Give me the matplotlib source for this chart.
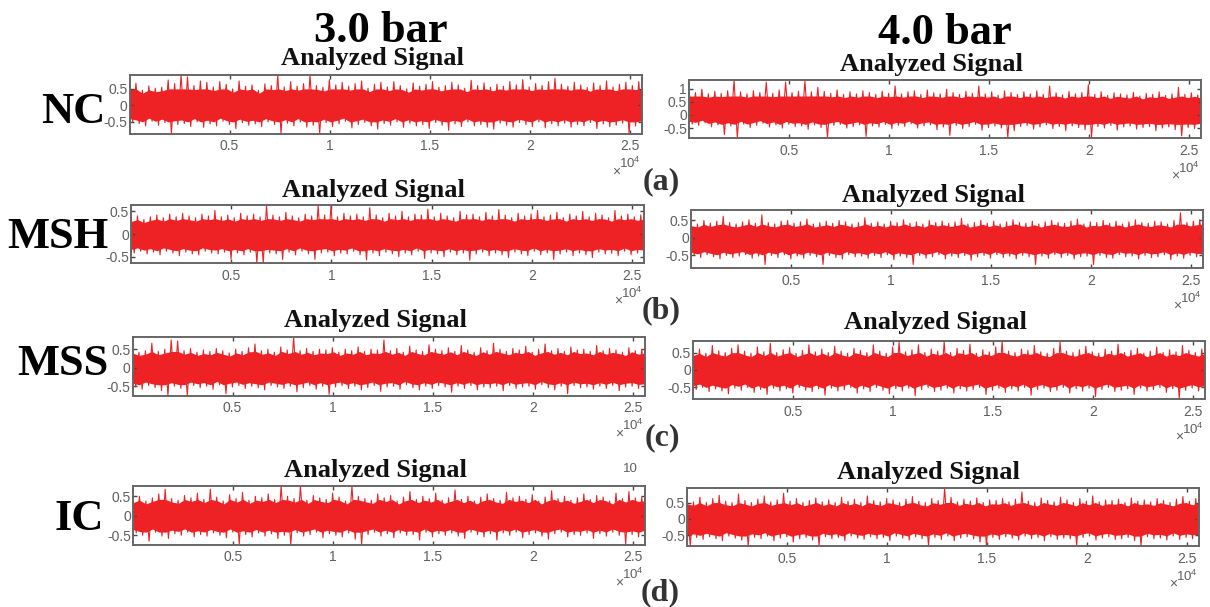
import numpy as np
import matplotlib
matplotlib.use("Agg")
import matplotlib.pyplot as plt

plt.rcParams['font.family'] = ['Liberation Sans', 'DejaVu Sans']
plt.rcParams['mathtext.default'] = 'regular'

W, H = 1210, 607
RED = '#EE2224'
GREY = '#666666'
TXT = '#5f5f5f'

x_ticks = [5000, 10000, 15000, 20000, 25000]
x_labels = ['0.5', '1', '1.5', '2', '2.5']
n_samples = 25600

# peak values, left to right, one per ~6 px
nc3_hi = [.62, .67, .46, .59, .52, .55, .77, .66, .92, .86,
          .60, .74, .70, .56, .72, .64, .50, .74, .58, .62,
          .46, .65, .60, .92, .56, .72, .58, .66, .92, .60,
          .55, .78, .62, .70, .58, .66, .74, .52, .64, .70,
          .56, .72, .60, .50, .68, .58, .64, .72, .55, .60,
          .70, .62, .52, .76, .60, .68, .55, .64, .58, .72,
          .62, .78, .56, .66, .60, .72, .82, .64, .58, .70,
          .62, .54, .68, .60, .74, .56, .64, .70, .60, .72]
nc3_lo = [-.50, -.55, -.62, -.48, -.60, -.52, -.85, -.58, -.55, -.64,
          -.50, -.66, -.56, -.62, -.48, -.58, -.70, -.52, -.60, -.56,
          -.64, -.50, -.58, -.85, -.54, -.62, -.50, -.66, -.60, -.85,
          -.52, -.64, -.56, -.48, -.68, -.58, -.52, -.62, -.72, -.55,
          -.60, -.50, -.66, -.54, -.62, -.58, -.70, -.52, -.60, -.75,
          -.56, -.64, -.50, -.62, -.58, -.66, -.72, -.54, -.60, -.66,
          -.52, -.58, -.64, -.50, -.68, -.56, -.62, -.54, -.66, -.58,
          -.62, -.52, -.70, -.56, -.64, -.60, -.54, -.85, -.62, -.58]

nc4_hi = [.95, .85, .98, .80, .90, .82, .92, 1.33, .88, .80,
          .92, .85, 1.25, .82, .95, 1.25, .85, .90, 1.30, .88,
          1.05, .90, .82, .95, .78, .88, .80, .92, .85, .78,
          .90, .82, 1.10, .80, .88, .92, .78, .95, .84, .80,
          .98, .85, .78, .90, .82, 1.10, .80, .88, .75, .92,
          .85, .78, .88, .80, .92, .78, 1.10, .84, .76, .90,
          .80, .85, 1.15, .78, .88, .74, .84, .80, .76, .86,
          .72, .82, .78, .88, .74, .80, 1.05, .78, .84, .76]
nc4_lo = [-.35, -.40, -.30, -.45, -.38, -.75, -.42, -.88, -.35, -.48,
          -.40, -.32, -.46, -.38, -.50, -.36, -.44, -.42, -.55, -.38,
          -.48, -.88, -.40, -.36, -.50, -.44, -.38, -.82, -.42, -.46,
          -.36, -.52, -.40, -.44, -.34, -.50, -.42, -.38, -.56, -.46,
          -.78, -.40, -.52, -.44, -.36, -.58, -.48, -.42, -.50, -.88,
          -.60, -.44, -.40, -.54, -.46, -.38, -.52, -.44, -.60, -.42,
          -.48, -.56, -.85, -.44, -.50, -.40, -.58, -.46, -.42, -.54,
          -.48, -.44, -.60, -.50, -.46, -.56, -.80, -.48, -.52, -.44]

msh3_hi = [.35, .40, .32, .38, .42, .36, .44, .38, .46, .40,
           .36, .44, .40, .52, .38, .42, .36, .46, .40, .44,
           .38, .63, .42, .38, .48, .40, .36, .44, .40, .63,
           .42, .63, .38, .46, .40, .44, .38, .58, .42, .36,
           .46, .40, .50, .38, .44, .42, .55, .38, .46, .40,
           .36, .50, .42, .44, .38, .48, .40, .54, .42, .36,
           .46, .40, .44, .52, .38, .42, .48, .36, .44, .40,
           .50, .38, .46, .42, .36, .52, .40, .44, .38, .42]
msh3_lo = [-.42, -.38, -.44, -.40, -.46, -.38, -.42, -.48, -.40, -.44,
           -.46, -.38, -.42, -.44, -.40, -.55, -.42, -.46, -.40, -.64,
           -.64, -.42, -.44, -.56, -.40, -.46, -.38, -.44, -.56, -.42,
           -.40, -.48, -.42, -.44, -.38, -.46, -.57, -.42, -.48, -.40,
           -.44, -.50, -.42, -.46, -.38, -.54, -.42, -.44, -.50, -.40,
           -.46, -.42, -.58, -.44, -.40, -.48, -.42, -.46, -.52, -.40,
           -.44, -.48, -.38, -.46, -.42, -.56, -.44, -.40, -.48, -.42,
           -.46, -.52, -.40, -.44, -.42, -.48, -.38, -.46, -.42, -.44]

msh4_hi = [.45, .40, .50, .42, .48, .62, .44, .40, .46, .52,
           .42, .66, .44, .40, .48, .50, .42, .46, .54, .40,
           .44, .48, .42, .50, .46, .40, .44, .58, .42, .46,
           .40, .48, .44, .52, .42, .46, .40, .50, .44, .48,
           .42, .46, .56, .40, .44, .50, .42, .48, .40, .46,
           .52, .44, .42, .48, .40, .46, .50, .44, .42, .48,
           .54, .40, .46, .44, .50, .42, .48, .40, .46, .52,
           .44, .42, .48, .46, .40, .50, .72, .44, .48, .52]
msh4_lo = [-.50, -.56, -.48, -.54, -.60, -.50, -.56, -.52, -.48, -.58,
           -.52, -.76, -.50, -.56, -.48, -.60, -.52, -.58, -.50, -.54,
           -.76, -.50, -.56, -.60, -.48, -.54, -.52, -.58, -.50, -.56,
           -.48, -.62, -.52, -.56, -.76, -.50, -.58, -.54, -.48, -.60,
           -.52, -.56, -.50, -.64, -.54, -.50, -.58, -.48, -.56, -.52,
           -.60, -.50, -.54, -.76, -.52, -.58, -.48, -.56, -.50, -.60,
           -.54, -.52, -.76, -.50, -.56, -.58, -.48, -.54, -.52, -.60,
           -.50, -.56, -.54, -.48, -.62, -.52, -.58, -.50, -.54, -.56]

mss3_hi = [.50, .42, .46, .66, .44, .50, .75, .72, .46, .52,
           .42, .48, .44, .52, .46, .40, .50, .44, .54, .64,
           .46, .50, .42, .56, .48, .83, .46, .52, .44, .50,
           .48, .54, .42, .50, .46, .56, .44, .50, .48, .75,
           .46, .52, .42, .58, .48, .44, .62, .50, .46, .54,
           .44, .60, .48, .42, .54, .46, .66, .50, .44, .52,
           .48, .58, .42, .50, .64, .46, .52, .44, .56, .48,
           .50, .44, .60, .46, .52, .48, .42, .54, .46, .50]
mss3_lo = [-.52, -.58, -.48, -.54, -.62, -.75, -.50, -.56, -.75, -.48,
           -.54, -.50, -.58, -.46, -.70, -.52, -.48, -.56, -.50, -.54,
           -.60, -.48, -.52, -.56, -.50, -.65, -.54, -.48, -.58, -.50,
           -.72, -.52, -.48, -.56, -.50, -.60, -.54, -.48, -.64, -.52,
           -.50, -.58, -.46, -.54, -.60, -.50, -.56, -.48, -.52, -.66,
           -.50, -.56, -.48, -.60, -.52, -.54, -.50, -.62, -.48, -.56,
           -.52, -.50, -.58, -.46, -.54, -.60, -.50, -.70, -.48, -.54,
           -.52, -.58, -.50, -.56, -.48, -.62, -.52, -.50, -.56, -.54]

mss4_hi = [.52, .60, .48, .70, .55, .50, .62, .72, .54, .48,
           .66, .52, .76, .50, .58, .64, .48, .56, .72, .52,
           .60, .50, .68, .54, .48, .62, .56, .50, .72, .54,
           .48, .66, .80, .52, .58, .72, .50, .60, .54, .82,
           .50, .62, .56, .74, .48, .58, .52, .66, .82, .54,
           .50, .60, .56, .70, .52, .48, .62, .80, .54, .50,
           .58, .68, .52, .48, .60, .54, .74, .50, .56, .62,
           .48, .54, .66, .50, .58, .52, .70, .56, .50, .60]
mss4_lo = [-.56, -.50, -.62, -.54, -.60, -.68, -.52, -.58, -.50, -.64,
           -.56, -.70, -.52, -.60, -.54, -.66, -.50, -.58, -.62, -.54,
           -.72, -.52, -.60, -.56, -.50, -.66, -.54, -.62, -.50, -.58,
           -.68, -.54, -.60, -.52, -.74, -.56, -.50, -.62, -.58, -.52,
           -.66, -.54, -.60, -.56, -.50, -.70, -.58, -.52, -.64, -.54,
           -.60, -.50, -.72, -.56, -.52, -.62, -.58, -.50, -.66, -.54,
           -.60, -.52, -.76, -.56, -.50, -.62, -.58, -.54, -.70, -.52,
           -.60, -.56, -.50, -.64, -.54, -.82, -.58, -.52, -.60, -.56]

ic3_hi = [.42, .50, .38, .46, .56, .68, .44, .40, .52, .46,
          .58, .42, .68, .48, .38, .54, .44, .60, .40, .50,
          .46, .56, .42, .77, .50, .44, .77, .40, .52, .46,
          .42, .58, .48, .38, .77, .50, .44, .40, .56, .46,
          .52, .38, .48, .62, .42, .50, .44, .58, .40, .46,
          .66, .42, .50, .38, .48, .56, .44, .40, .60, .46,
          .50, .42, .54, .38, .48, .64, .44, .50, .40, .46,
          .56, .42, .52, .48, .38, .58, .44, .62, .46, .48]
ic3_lo = [-.44, -.50, -.65, -.42, -.52, -.58, -.46, -.50, -.42, -.54,
          -.48, -.52, -.44, -.50, -.56, -.42, -.72, -.48, -.54, -.44,
          -.52, -.46, -.58, -.50, -.74, -.44, -.52, -.48, -.42, -.56,
          -.46, -.50, -.54, -.44, -.60, -.72, -.48, -.42, -.52, -.46,
          -.56, -.44, -.50, -.48, -.62, -.42, -.54, -.46, -.50, -.44,
          -.52, -.58, -.42, -.48, -.54, -.46, -.62, -.44, -.50, -.42,
          -.56, -.48, -.44, -.52, -.60, -.46, -.42, -.54, -.48, -.50,
          -.44, -.58, -.46, -.52, -.42, -.50, -.72, -.48, -.54, -.46]

ic4_hi = [.58, .52, .66, .50, .62, .72, .54, .50, .76, .56,
          .50, .60, .70, .52, .58, .78, .54, .62, .50, .56,
          .64, .52, .58, .50, .66, .54, .60, .50, .70, .56,
          .52, .62, .58, .50, .60, .68, .54, .50, .62, .56,
          .94, .66, .52, .60, .54, .64, .50, .58, .56, .62,
          .52, .60, .82, .54, .50, .64, .56, .52, .66, .58,
          .50, .62, .54, .70, .52, .58, .56, .60, .50, .64,
          .54, .58, .52, .62, .56, .50, .60, .68, .54, .62]
ic4_lo = [-.82, -.56, -.62, -.54, -.60, -.66, -.52, -.58, -.64, -.82,
          -.56, -.60, -.52, -.66, -.58, -.54, -.70, -.60, -.56, -.64,
          -.82, -.54, -.60, -.56, -.66, -.52, -.58, -.62, -.54, -.60,
          -.56, -.66, -.52, -.58, -.64, -.54, -.60, -.82, -.56, -.62,
          -.52, -.66, -.58, -.54, -.60, -.70, -.82, -.56, -.62, -.54,
          -.58, -.64, -.52, -.60, -.56, -.66, -.54, -.62, -.58, -.60,
          -.82, -.56, -.52, -.64, -.58, -.54, -.62, -.60, -.56, -.66,
          -.82, -.54, -.60, -.58, -.64, -.52, -.62, -.56, -.60, -.58]

# level where the solid band stops and only thin spikes go on (low, high)
nc3_core = [-.50, .50]
nc4_core = [-.36, .72]
msh3_core = [-.37, .34]
msh4_core = [-.48, .40]
mss3_core = [-.46, .44]
mss4_core = [-.52, .50]
ic3_core = [-.42, .42]
ic4_core = [-.52, .50]

# how far up the peaks the solid band goes
band_share = 0.8

y_ticks_a = [-0.5, 0, 0.5]
y_ticks_b = [-0.5, 0, 0.5, 1]

panels = [
    # left, right, top, bottom in pixels, ylim, y ticks, data, title centre
    ((129.5, 642, 75, 133.5), (-.85, .92), y_ticks_a, nc3_hi, nc3_lo, nc3_core, (372, 59)),
    ((689, 1201, 80, 138), (-.88, 1.33), y_ticks_b, nc4_hi, nc4_lo, nc4_core, (931, 64)),
    ((131, 644, 205.5, 263), (-.64, .63), y_ticks_a, msh3_hi, msh3_lo, msh3_core, (373, 190)),
    ((691, 1203, 210, 268), (-.86, .80), y_ticks_a, msh4_hi, msh4_lo, msh4_core, (933, 195)),
    ((132.5, 645, 337, 395.5), (-.75, .83), y_ticks_a, mss3_hi, mss3_lo, mss3_core, (375, 321)),
    ((693, 1205, 341, 399), (-.83, .83), y_ticks_a, mss4_hi, mss4_lo, mss4_core, (935, 323)),
    ((133, 645, 485.7, 544.7), (-.74, .77), y_ticks_a, ic3_hi, ic3_lo, ic3_core, (375, 470)),
    ((687, 1199, 488, 546), (-.82, .94), y_ticks_a, ic4_hi, ic4_lo, ic4_core, (928, 472)),
]

fig = plt.figure(figsize=(W / 100, H / 100), dpi=100)


def put(px, py, s, **kw):
    fig.text(px / W, 1 - py / H, s, ha='center', va='center', **kw)


for box, ylim, yt, hi, lo, core, tc in panels:
    l, r, t, b = box
    ax = fig.add_axes([l / W, 1 - b / H, (r - l) / W, (b - t) / H])
    step = n_samples / (len(hi) - 0.5)
    xs = np.arange(len(hi)) * step
    zx = np.column_stack([xs, xs + step / 2]).ravel()
    zy = np.column_stack([hi, lo]).ravel()
    hi_a = np.array(hi)
    lo_a = np.array(lo)
    mid = (core[0] + core[1]) / 2
    top = np.minimum(mid + band_share * (hi_a - mid), core[1])
    bot = np.maximum(mid + band_share * (lo_a - mid), core[0])
    ax.fill_between(np.linspace(0, n_samples, len(hi)), bot, top, color=RED, lw=0)
    ax.plot(zx, zy, color=RED, lw=0.8)
    ax.set_xlim(0, n_samples)
    ax.set_ylim(*ylim)
    ax.set_xticks(x_ticks)
    ax.set_xticklabels(x_labels)
    ax.set_yticks(yt)
    ax.set_yticklabels([('%g' % v) for v in yt])
    ax.tick_params(direction='in', length=3, width=1, color='#444444', top=True, right=True,
                   labelsize=10, labelcolor=TXT)
    ax.tick_params(axis='x', pad=4)
    ax.tick_params(axis='y', pad=1.5)
    for sp in ax.spines.values():
        sp.set_linewidth(1.4)
        sp.set_color(GREY)
    fig.text((r - 22) / W, 1 - (b + 38) / H, '\u00d7', ha='right', va='center', fontsize=10, color=TXT)
    fig.text((r - 1) / W, 1 - (b + 30) / H, r'$10^{4}$', ha='right', va='center', fontsize=9.5, color=TXT)
    put(tc[0], tc[1], 'Analyzed Signal', family='Liberation Serif', weight='bold',
        fontsize=19, color='#111111')

big = dict(family='Liberation Serif', weight='bold', color='black')
put(381, 31, '3.0 bar', fontsize=32, **big)
put(945, 33, '4.0 bar', fontsize=32, **big)
put(73, 112, 'NC', fontsize=32, **big)
put(58, 237, 'MSH', fontsize=32, **big)
put(63, 364, 'MSS', fontsize=32, **big)
put(79, 519, 'IC', fontsize=32, **big)

sub = dict(family='Liberation Serif', weight='bold', color='#333333')
put(661, 182, '(a)', fontsize=23, **sub)
put(661, 311, '(b)', fontsize=23, **sub)
put(662, 438, '(c)', fontsize=23, **sub)
put(660, 593, '(d)', fontsize=23, **sub)
put(630, 469, '10', fontsize=9.5, color=TXT)

fig.savefig('out.png', dpi=100)
